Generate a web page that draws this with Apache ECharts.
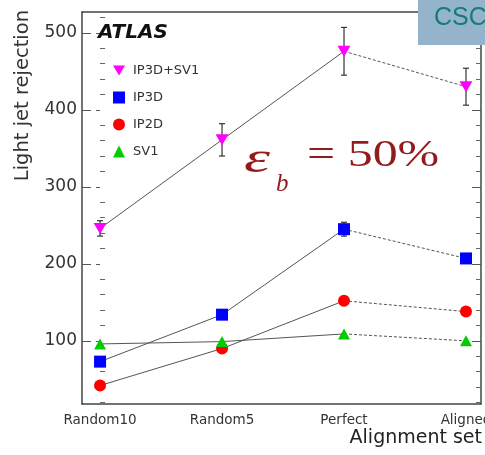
<!DOCTYPE html>
<html>
<head>
<meta charset="utf-8">
<script src="https://cdn.jsdelivr.net/npm/echarts@6/dist/echarts.min.js"></script>
<style>
  html, body { margin: 0; padding: 0; background: #ffffff; }
  #chart { width: 485px; height: 455px; }
</style>
</head>
<body>
<div id="chart"></div>
<script>
// Alignment sets on the x axis
const categories = ['Random10', 'Random5', 'Perfect', 'Aligned'];

// Light jet rejection at eps_b = 50% for each tagger
const ip3dsv1 = [246, 361, 476, 430];
const ip3dsv1Err = [10, 21, 31, 24];
const ip3d = [73, 134, 245, 207];
const ip3dErr = [0, 0, 9, 5];
const ip2d = [42, 90, 152, 138];
const sv1 = [96, 99, 109, 100];

// y axis tick values
const yMajorTicks = [100, 200, 300, 400, 500];
const yMinorTicks = [20, 40, 60, 80, 120, 140, 160, 180, 220, 240, 260, 280,
  320, 340, 360, 380, 420, 440, 460, 480, 520];

const Y_MIN = 18, Y_MAX = 527;
const X_MIN = -0.148, X_MAX = 3.123;
const LINE_COLOR = '#555555';
const FONT = 'DejaVu Sans';

const pts = (arr, idx) => idx.map(i => [i, arr[i]]);
const solidIdx = [0, 1, 2];
const dashIdx = [2, 3];

const taggers = [
  { name: 'IP3D+SV1', data: ip3dsv1, color: '#ff00ff', symbol: 'path://M0,0 L12,0 L6,10 Z', size: [13, 11] },
  { name: 'IP3D', data: ip3d, color: '#0000ff', symbol: 'rect', size: 12 },
  { name: 'IP2D', data: ip2d, color: '#ff0000', symbol: 'circle', size: 12 },
  { name: 'SV1', data: sv1, color: '#00cc00', symbol: 'triangle', size: [12, 11] }
];

const series = [];
// connecting lines: solid up to Perfect, dotted from Perfect to Aligned
taggers.forEach(t => {
  series.push({
    type: 'line', name: t.name + '-solid', data: pts(t.data, solidIdx),
    showSymbol: false, silent: true, z: 2,
    lineStyle: { color: LINE_COLOR, width: 1 }
  });
  series.push({
    type: 'line', name: t.name + '-dot', data: pts(t.data, dashIdx),
    showSymbol: false, silent: true, z: 2,
    lineStyle: { color: LINE_COLOR, width: 1, type: [3, 2] }
  });
});

// error bars
function errorBars(values, errs) {
  return {
    type: 'custom', silent: true, z: 3,
    data: values.map((v, i) => [i, v, errs[i]]),
    renderItem: function (params, api) {
      const x = api.value(0), v = api.value(1), e = api.value(2);
      if (!e) return null;
      const top = api.coord([x, v + e]);
      const bot = api.coord([x, v - e]);
      const cap = 3;
      const style = { stroke: '#333333', lineWidth: 1.2 };
      return {
        type: 'group',
        children: [
          { type: 'line', shape: { x1: top[0], y1: top[1], x2: bot[0], y2: bot[1] }, style },
          { type: 'line', shape: { x1: top[0] - cap, y1: top[1], x2: top[0] + cap, y2: top[1] }, style },
          { type: 'line', shape: { x1: bot[0] - cap, y1: bot[1], x2: bot[0] + cap, y2: bot[1] }, style }
        ]
      };
    }
  };
}
series.push(errorBars(ip3dsv1, ip3dsv1Err));
series.push(errorBars(ip3d, ip3dErr));

// markers
taggers.forEach(t => {
  series.push({
    type: 'scatter', name: t.name, data: pts(t.data, [0, 1, 2, 3]),
    symbol: t.symbol, symbolSize: t.size, z: 4,
    itemStyle: { color: t.color, opacity: 1 }
  });
});

const yAxisBase = {
  type: 'value', min: Y_MIN, max: Y_MAX,
  splitLine: { show: false },
  axisLabel: { show: false },
  axisLine: { show: false }
};

const option = {
  backgroundColor: '#ffffff',
  animation: false,
  grid: { left: 82, right: 4, top: 12, bottom: 51, containLabel: false, outerBoundsMode: 'none' },
  legend: {
    orient: 'vertical', left: 108, top: 59,
    itemWidth: 12, itemHeight: 12, itemGap: 14,
    textStyle: { fontFamily: FONT, fontSize: 13, color: '#333333', padding: [0, 0, 0, 3] },
    data: taggers.map(t => ({ name: t.name, icon: t.symbol }))
  },
  xAxis: [
    {
      type: 'value', min: X_MIN, max: X_MAX, position: 'bottom',
      splitLine: { show: false },
      axisLine: { show: true, onZero: false, lineStyle: { color: '#444444', width: 1.5 } },
      axisTick: { show: false },
      axisLabel: {
        customValues: [0, 1, 2, 3],
        formatter: v => categories[Math.round(v)],
        fontFamily: FONT, fontSize: 13.5, color: '#333333', margin: 9
      }
    },
    {
      type: 'value', min: X_MIN, max: X_MAX, position: 'top',
      splitLine: { show: false },
      axisLine: { show: true, onZero: false, lineStyle: { color: '#444444', width: 1.5 } },
      axisTick: { show: false }, axisLabel: { show: false }
    }
  ],
  yAxis: [
    Object.assign({}, yAxisBase, {
      position: 'left',
      axisLine: { show: true, onZero: false, lineStyle: { color: '#444444', width: 1.5 } },
      axisTick: { show: true, inside: true, length: 9, customValues: yMajorTicks, lineStyle: { color: '#555555' } },
      axisLabel: { show: true, customValues: yMajorTicks, fontFamily: FONT, fontSize: 17, color: '#333333', margin: 5 }
    }),
    Object.assign({}, yAxisBase, {
      position: 'left',
      axisTick: { show: true, inside: true, length: 5, customValues: yMinorTicks, lineStyle: { color: '#666666' } }
    }),
    Object.assign({}, yAxisBase, {
      position: 'left',
      axisTick: { show: true, inside: false, length: 4, customValues: yMajorTicks, lineStyle: { color: '#555555' } }
    }),
    Object.assign({}, yAxisBase, {
      position: 'right',
      axisLine: { show: true, onZero: false, lineStyle: { color: '#444444', width: 1.5 } },
      axisTick: { show: true, inside: true, length: 9, customValues: yMajorTicks, lineStyle: { color: '#555555' } }
    }),
    Object.assign({}, yAxisBase, {
      position: 'right',
      axisTick: { show: true, inside: true, length: 5, customValues: yMinorTicks, lineStyle: { color: '#666666' } }
    })
  ],
  series: series,
  graphic: [
    // CSC tag in the top-right corner
    { type: 'rect', z: 100, shape: { x: 418, y: 0, width: 67, height: 45 }, style: { fill: '#93b4cb' } },
    { type: 'text', z: 101, x: 434, y: 18,
      style: { text: 'CSC', fill: '#177a78', font: '25px "Liberation Sans"', verticalAlign: 'middle' } },
    // ATLAS label
    { type: 'text', z: 50, x: 98, y: 33,
      style: { text: 'ATLAS', fill: '#111111', font: 'italic bold 20px "DejaVu Sans"', verticalAlign: 'middle' } },
    // y axis title
    { type: 'text', z: 50, x: 23, y: 10, rotation: Math.PI / 2,
      style: { text: 'Light jet rejection', fill: '#333333', font: '19.5px "DejaVu Sans"', align: 'right', verticalAlign: 'middle' } },
    // x axis title
    { type: 'text', z: 50, x: 482, y: 438,
      style: { text: 'Alignment set', fill: '#222222', font: '19px "DejaVu Sans"', align: 'right', verticalAlign: 'middle' } },
    // efficiency working point
    { type: 'text', z: 50, x: 244, y: 160, scaleX: 1.5,
      style: { text: 'ε', fill: '#921c1c', font: 'italic 44px "Liberation Serif"', verticalAlign: 'middle' } },
    { type: 'text', z: 50, x: 276, y: 184,
      style: { text: 'b', fill: '#921c1c', font: 'italic 25px "Liberation Serif"', verticalAlign: 'middle' } },
    { type: 'text', z: 50, x: 307, y: 156, scaleX: 1.35,
      style: { text: '= 50%', fill: '#921c1c', font: '37px "Liberation Serif"', verticalAlign: 'middle' } }
  ]
};

const chart = echarts.init(document.getElementById('chart'), null, { renderer: 'canvas' });
chart.setOption(option);
</script>
</body>
</html>
